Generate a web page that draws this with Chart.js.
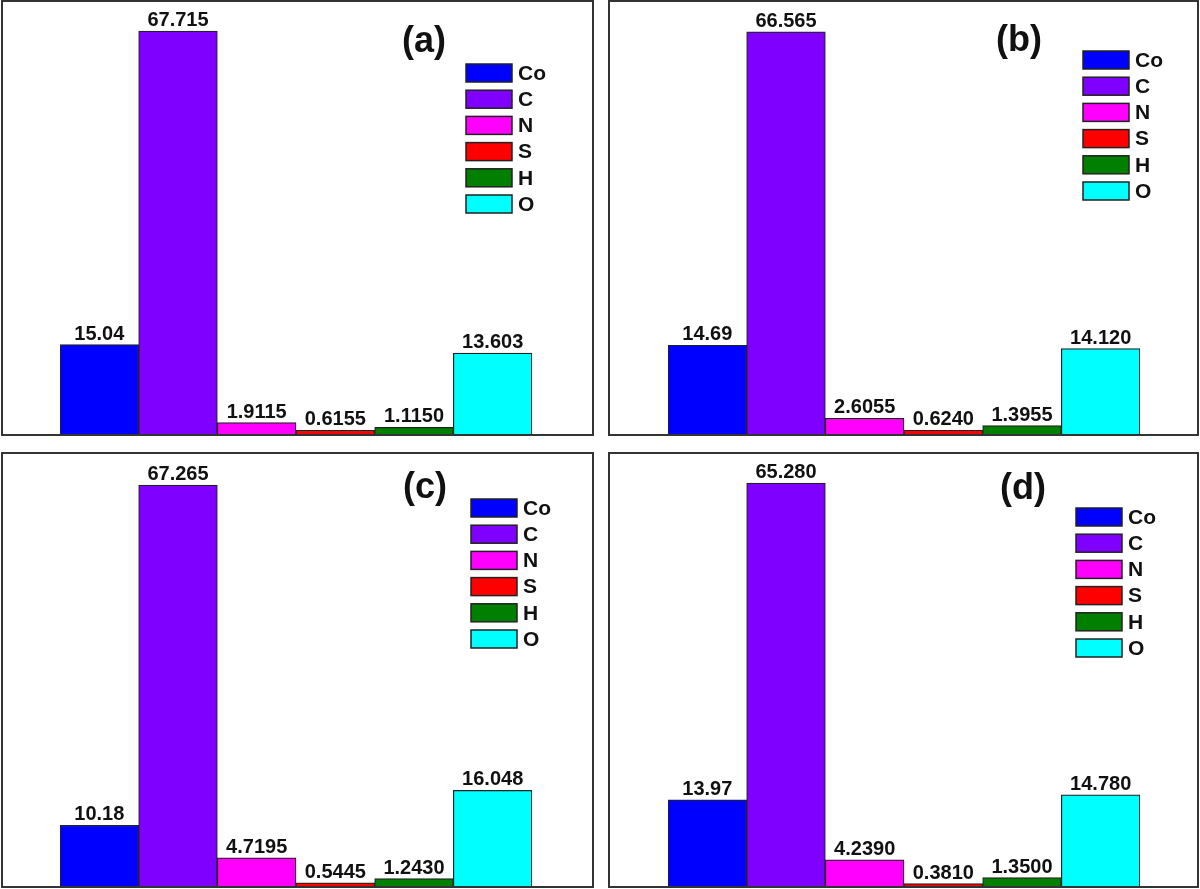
<!DOCTYPE html>
<html>
<head>
<meta charset="utf-8">
<script src="https://cdn.jsdelivr.net/npm/chart.js@4.4.1/dist/chart.umd.min.js"></script>
<style>
  body { margin: 0; background: #fff; font-family: 'Liberation Sans', sans-serif; }
  .panel { position: absolute; border: 2px solid #333; box-sizing: border-box; background: #fff; }
  .panel canvas { display: block; }
</style>
</head>
<body>
<div class="panel" id="pa" style="left:1px;top:0px;width:593px;height:436px"><canvas id="ca" width="589" height="432"></canvas></div>
<div class="panel" id="pb" style="left:608px;top:0px;width:591px;height:436px"><canvas id="cb" width="587" height="432"></canvas></div>
<div class="panel" id="pc" style="left:1px;top:452px;width:593px;height:436px"><canvas id="cc" width="589" height="432"></canvas></div>
<div class="panel" id="pd" style="left:608px;top:452px;width:591px;height:436px"><canvas id="cd" width="587" height="432"></canvas></div>
<script>
const elements = ['Co', 'C', 'N', 'S', 'H', 'O'];
const colors = ['#0000ff', '#7f00ff', '#ff00ff', '#ff0000', '#007f00', '#00ffff'];

const valuesA = [15.04, 67.715, 1.9115, 0.6155, 1.1150, 13.603];
const valuesB = [14.69, 66.565, 2.6055, 0.6240, 1.3955, 14.120];
const valuesC = [10.18, 67.265, 4.7195, 0.5445, 1.2430, 16.048];
const valuesD = [13.97, 65.280, 4.2390, 0.3810, 1.3500, 14.780];

// value labels as printed on the figure (trailing zeros kept)
const textA = ['15.04', '67.715', '1.9115', '0.6155', '1.1150', '13.603'];
const textB = ['14.69', '66.565', '2.6055', '0.6240', '1.3955', '14.120'];
const textC = ['10.18', '67.265', '4.7195', '0.5445', '1.2430', '16.048'];
const textD = ['13.97', '65.280', '4.2390', '0.3810', '1.3500', '14.780'];

const FONT = 'Liberation Sans';

// draws value labels, the panel letter and the legend
const decor = {
  id: 'decor',
  afterDatasetsDraw(chart, args, opts) {
    const ctx = chart.ctx;
    const meta = chart.getDatasetMeta(0);
    ctx.save();
    ctx.fillStyle = '#111';
    ctx.font = 'bold 20px ' + FONT;
    ctx.textAlign = 'center';
    ctx.textBaseline = 'alphabetic';
    meta.data.forEach((bar, i) => {
      ctx.fillText(opts.text[i], bar.x, bar.y - 5);
    });

    ctx.font = 'bold 36px ' + FONT;
    ctx.textBaseline = 'middle';
    ctx.fillText(opts.tag, opts.tagX, opts.tagY);

    ctx.textAlign = 'left';
    ctx.font = 'bold 21px ' + FONT;
    elements.forEach((el, i) => {
      const y = opts.legY + i * 26.2;
      ctx.fillStyle = colors[i];
      ctx.fillRect(opts.legX, y, 46, 18);
      ctx.strokeStyle = '#222';
      ctx.lineWidth = 1.5;
      ctx.strokeRect(opts.legX, y, 46, 18);
      ctx.fillStyle = '#111';
      ctx.fillText(el, opts.legX + 52, y + 10);
    });
    ctx.restore();
  }
};

function makePanel(id, values, text, yMax, pad, deco) {
  new Chart(document.getElementById(id), {
    type: 'bar',
    data: {
      labels: elements,
      datasets: [{
        data: values,
        backgroundColor: colors,
        borderColor: '#222',
        borderWidth: 1.2,
        categoryPercentage: 1,
        barPercentage: 1
      }]
    },
    options: {
      responsive: false,
      animation: false,
      layout: { padding: { left: pad[0], right: pad[1], top: 0, bottom: 0 } },
      scales: {
        x: { display: false },
        y: { display: false, min: 0, max: yMax }
      },
      plugins: {
        legend: { display: false },
        tooltip: { enabled: false },
        decor: Object.assign({ text: text }, deco)
      }
    },
    plugins: [decor]
  });
}

makePanel('ca', valuesA, textA, 72.6, [57, 60], { tag: '(a)', tagX: 421, tagY: 40, legX: 463, legY: 62 });
makePanel('cb', valuesB, textB, 71.5, [58, 57], { tag: '(b)', tagX: 409, tagY: 39, legX: 473, legY: 49 });
makePanel('cc', valuesC, textC, 72.5, [57, 60], { tag: '(c)', tagX: 422, tagY: 34, legX: 468, legY: 45 });
makePanel('cd', valuesD, textD, 70.0, [58, 57], { tag: '(d)', tagX: 413, tagY: 35, legX: 466, legY: 54 });
</script>
</body>
</html>
